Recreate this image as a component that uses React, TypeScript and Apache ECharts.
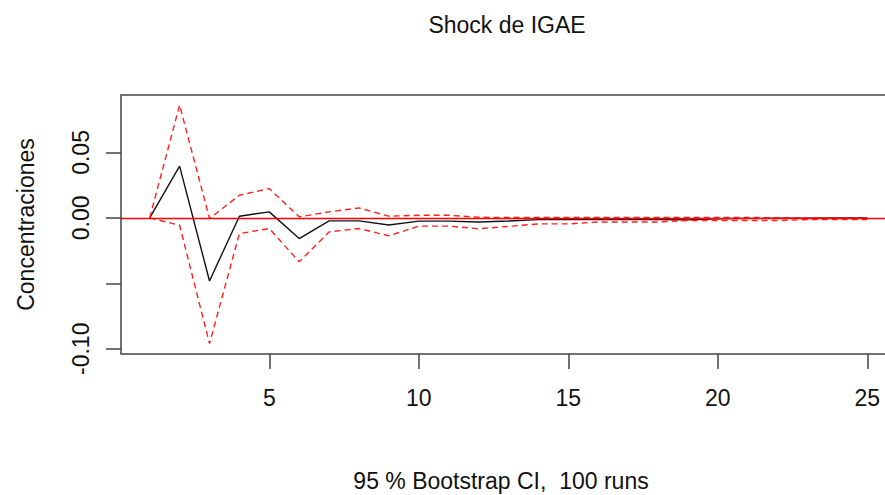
import React, { useEffect, useRef } from "react";
import * as echarts from "echarts";

const horizons = [1,2,3,4,5,6,7,8,9,10,11,12,13,14,15,16,17,18,19,20,21,22,23,24,25];
const irfValues = [0, 0.0396, -0.0482, 0.0013, 0.0046, -0.0158, -0.0023, -0.0023, -0.0054, -0.0025, -0.0025, -0.0031, -0.0024, -0.0013, -0.0013, -0.0012, -0.0012, -0.0012, -0.0015, -0.0007, -0.0004, -0.0003, -0.0002, -0.0001, -0.0001];
const upperValues = [0, 0.0862, -0.0005, 0.0173, 0.0224, 0.0008, 0.0046, 0.0076, 0.0013, 0.0020, 0.0020, 0.0005, 0.0003, 0.0003, 0.0003, 0.0003, 0.0003, 0.0003, 0.0003, 0.0003, 0.0003, 0.0001, 0.0, 0.0, 0.0];
const lowerValues = [0, -0.0056, -0.0961, -0.0120, -0.0081, -0.0336, -0.0107, -0.0081, -0.0137, -0.0063, -0.0063, -0.0083, -0.0065, -0.0046, -0.0046, -0.0031, -0.0031, -0.0031, -0.0020, -0.0020, -0.0020, -0.0020, -0.0013, -0.0013, -0.0013];
const xTicks = [5, 10, 15, 20, 25];
const yTicks = [-0.1, -0.05, 0, 0.05];
const yLabels = [-0.1, 0, 0.05];

const titleText = "Shock de IGAE";
const yName = "Concentraciones";
const footerText = "95 % Bootstrap CI,  100 runs";

const FONT = '"Liberation Sans", Arial, Helvetica, sans-serif';

export default function App() {
  const ref = useRef<HTMLDivElement>(null);
  useEffect(() => {
    if (!ref.current) return;
    const chart = echarts.init(ref.current, null, { renderer: "svg" });
    const pairs = (vals: number[]) => horizons.map((h, i) => [h, vals[i]]);
    chart.setOption({
      animation: false,
      backgroundColor: "#ffffff",
      textStyle: { fontFamily: FONT },
      grid: {
        left: 121,
        top: 95,
        width: 775,
        height: 259,
        show: true,
        borderColor: "#444",
        borderWidth: 1.5,
        containLabel: false,
        outerBoundsMode: "none",
      },
      xAxis: {
        type: "value",
        min: 0.04,
        max: 25.96,
        axisLine: { show: false, onZero: false },
        splitLine: { show: false },
        axisTick: { show: true, length: 15, inside: false, customValues: xTicks, lineStyle: { color: "#444", width: 1.5 } },
        axisLabel: {
          customValues: xTicks,
          margin: 32,
          fontSize: 23,
          color: "#111",
          fontFamily: FONT,
        },
      },
      yAxis: {
        type: "value",
        min: -0.104,
        max: 0.0939,
        name: yName,
        nameLocation: "middle",
        nameRotate: 90,
        nameGap: 84,
        nameTextStyle: { fontSize: 23, color: "#111", fontFamily: FONT },
        axisLine: { show: false, onZero: false },
        splitLine: { show: false },
        axisTick: { show: true, length: 15, inside: false, customValues: yTicks, lineStyle: { color: "#444", width: 1.5 } },
        axisLabel: {
          customValues: yLabels,
          rotate: 90,
          margin: 29,
          fontSize: 23,
          color: "#111",
          fontFamily: FONT,
          formatter: (v: number) => v.toFixed(2),
        },
      },
      graphic: [
        {
          type: "text",
          x: 507,
          y: 25,
          style: { text: titleText, fontSize: 23, fontFamily: FONT, fill: "#111", textAlign: "center", textVerticalAlign: "middle" },
        },
        {
          type: "text",
          x: 501,
          y: 481,
          style: { text: footerText, fontSize: 23, fontFamily: FONT, fill: "#111", textAlign: "center", textVerticalAlign: "middle" },
        },
      ],
      series: [
        {
          type: "line",
          data: pairs(irfValues),
          showSymbol: false,
          lineStyle: { color: "#111", width: 1.4 },
          z: 2,
        },
        {
          type: "line",
          data: pairs(upperValues),
          showSymbol: false,
          lineStyle: { color: "#ff2020", width: 1.4, type: [6, 4] },
          z: 3,
        },
        {
          type: "line",
          data: pairs(lowerValues),
          showSymbol: false,
          lineStyle: { color: "#ff2020", width: 1.4, type: [6, 4] },
          z: 4,
          markLine: {
            silent: true,
            symbol: "none",
            label: { show: false },
            lineStyle: { color: "#ff0000", type: "solid", width: 1.4 },
            data: [{ yAxis: 0 }],
          },
        },
      ],
    });
    return () => chart.dispose();
  }, []);
  return <div ref={ref} style={{ position: "fixed", left: 0, top: 0, width: 885, height: 495 }} />;
}
